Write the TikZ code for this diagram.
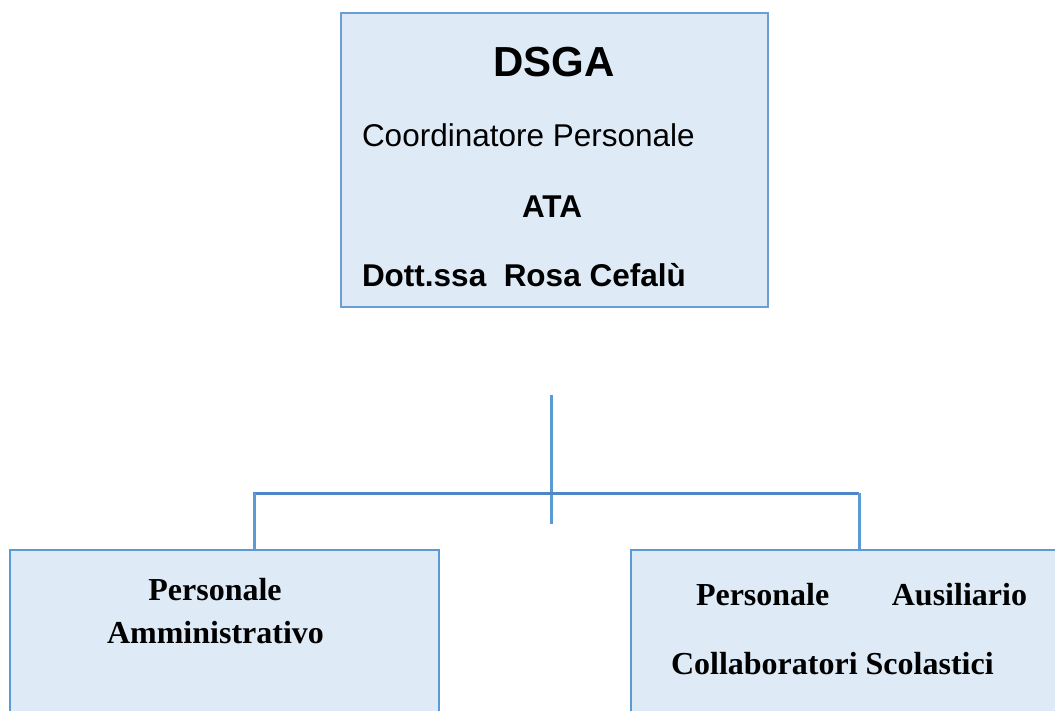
\documentclass[tikz,border=0pt]{standalone}
\usepackage{fontspec}
\usetikzlibrary{calc}
\setmainfont{Liberation Serif}
\newfontfamily\arialf{Liberation Sans}
\definecolor{boxfill}{HTML}{DEEAF6}
\definecolor{boxline}{HTML}{5B9BD5}
\definecolor{topline}{HTML}{6C9ED6}
\definecolor{hline}{HTML}{4F86C6}
\tikzset{
  topbox/.style={draw=topline, line width=1.3pt, fill=boxfill, inner sep=0pt, outer sep=0pt},
  lowbox/.style={draw=boxline, line width=2.8pt, fill=boxfill, inner sep=0pt, outer sep=0pt},
  conn/.style={draw=boxline, line width=3pt},
  txt/.style={anchor=base west, inner sep=0pt, outer sep=0pt},
  sanstxt/.style={txt, font=\arialf\fontsize{31.5}{36}\selectfont},
  sansbold/.style={txt, font=\arialf\bfseries\fontsize{31.5}{36}\selectfont},
  seriftxt/.style={txt, font=\bfseries\fontsize{32}{38}\selectfont},
}
\begin{document}
\begin{tikzpicture}[x=1pt,y=-1pt]
\useasboundingbox (0,0) rectangle (1055,711);
% boxes
\node[topbox, minimum width=427pt, minimum height=294pt] (top) at (554.5,160) {};
\node[lowbox, minimum width=429pt, minimum height=180pt] (left) at (224.5,640) {};
\node[lowbox, minimum width=449pt, minimum height=180pt] (right) at (855.5,640) {};
% connectors
\coordinate (stemtop) at (551,395);
\coordinate (stembot) at (551,524);
\coordinate (hl) at (254.5,493);
\coordinate (hr) at (859,493);
\draw[conn] (stemtop) -- (stembot);
\draw[conn, draw=hline, line cap=rect] (hl) -- ($(hr)+(-2,0)$);
\draw[conn] (hl) -- (hl |- left.north);
\draw[conn] (hr) -- (hr |- right.north);
% top texts
\node[txt, font=\arialf\bfseries\fontsize{42}{48}\selectfont] (t1) at (493.5,77) {DSGA};
\node[sanstxt] (t2) at (362,147) {Coordinatore Personale};
\node[sansbold] (t3) at (522,218) {ATA};
\node[sansbold] (t4) at (362,287) {Dott.ssa\ \ Rosa Cefalù};
% left box texts
\node[seriftxt, anchor=base] (l1) at (215,600) {Personale};
\node[seriftxt, anchor=base] (l2) at (215.5,643) {Amministrativo};
% right box texts
\node[seriftxt] (r1) at (696,605) {Personale};
\node[seriftxt, anchor=base east] (r2) at (1027,605) {Ausiliario};
\node[seriftxt] (r3) at (671,674) {Collaboratori Scolastici};
\end{tikzpicture}
\end{document}
